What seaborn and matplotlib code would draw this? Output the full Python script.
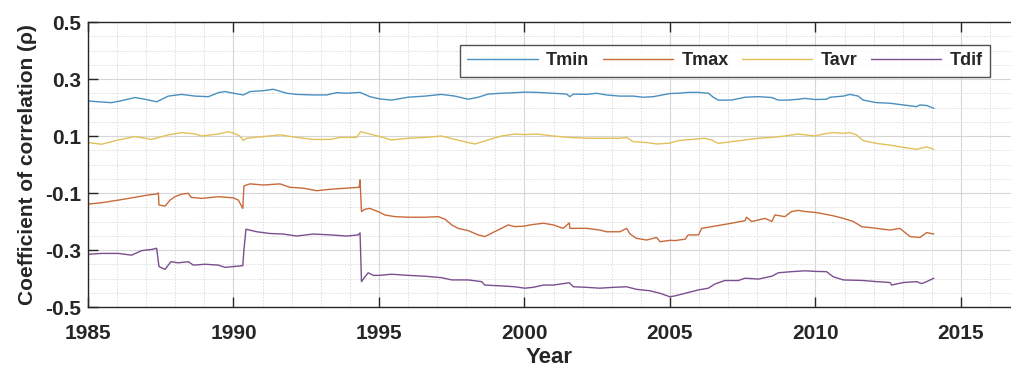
import numpy as np
import pandas as pd
import seaborn as sns
import matplotlib
matplotlib.use("Agg")
import matplotlib.pyplot as plt
from matplotlib.ticker import MultipleLocator

# Correlation series (year, rho)
tmin_year = [1985.0, 1985.36, 1985.81, 1986.16, 1986.62, 1986.96, 1987.36, 1987.76, 1988.22, 1988.68,
             1989.14, 1989.48, 1989.71, 1989.95, 1990.34, 1990.57, 1991.03, 1991.37, 1991.83, 1992.17,
             1992.74, 1993.2, 1993.55, 1993.89, 1994.35, 1994.69, 1995.03, 1995.43, 1996.0, 1996.58,
             1997.15, 1997.61, 1998.07, 1998.41, 1998.75, 1999.21, 1999.67, 2000.01, 2000.42, 2000.99,
             2001.45, 2001.56, 2001.68, 2002.14, 2002.48, 2002.82, 2003.28, 2003.74, 2004.08, 2004.43,
             2005.0, 2005.29, 2005.63, 2005.98, 2006.32, 2006.49, 2006.66, 2007.12, 2007.58, 2008.04,
             2008.5, 2008.72, 2009.07, 2009.41, 2009.64, 2009.98, 2010.38, 2010.5, 2010.96, 2011.18,
             2011.47, 2011.64, 2012.1, 2012.56, 2013.02, 2013.48, 2013.59, 2013.82, 2014.07]
tmin = [0.223, 0.220, 0.217, 0.224, 0.235, 0.229, 0.220, 0.240, 0.246, 0.240,
        0.238, 0.252, 0.256, 0.251, 0.244, 0.256, 0.259, 0.264, 0.250, 0.246,
        0.244, 0.244, 0.252, 0.250, 0.253, 0.238, 0.230, 0.226, 0.236, 0.240,
        0.246, 0.240, 0.229, 0.236, 0.247, 0.250, 0.252, 0.254, 0.253, 0.250,
        0.247, 0.238, 0.247, 0.246, 0.250, 0.244, 0.240, 0.240, 0.236, 0.238,
        0.249, 0.250, 0.253, 0.253, 0.250, 0.236, 0.226, 0.226, 0.236, 0.238,
        0.235, 0.226, 0.226, 0.229, 0.232, 0.228, 0.229, 0.236, 0.240, 0.246,
        0.240, 0.226, 0.217, 0.215, 0.209, 0.203, 0.209, 0.207, 0.197]

tmax_year = [1985.0, 1985.47, 1986.04, 1986.62, 1987.07, 1987.33, 1987.42, 1987.44, 1987.65, 1987.82,
             1987.99, 1988.22, 1988.45, 1988.54, 1988.91, 1989.48, 1990.0, 1990.17, 1990.32, 1990.36,
             1990.57, 1991.03, 1991.6, 1991.94, 1992.4, 1992.86, 1993.32, 1993.89, 1994.32, 1994.35,
             1994.40, 1994.52, 1994.69, 1995.03, 1995.2, 1995.55, 1996.0, 1996.58, 1997.04, 1997.27,
             1997.5, 1997.72, 1998.07, 1998.41, 1998.64, 1998.87, 1999.21, 1999.44, 1999.67, 2000.01,
             2000.19, 2000.65, 2000.99, 2001.33, 2001.54, 2001.56, 2002.14, 2002.59, 2002.82, 2003.28,
             2003.51, 2003.63, 2003.85, 2004.2, 2004.54, 2004.66, 2005.0, 2005.17, 2005.52, 2005.63,
             2005.98, 2006.09, 2006.55, 2007.12, 2007.58, 2007.63, 2007.81, 2008.27, 2008.5, 2008.61,
             2008.95, 2009.18, 2009.41, 2009.64, 2009.98, 2010.27, 2010.61, 2010.96, 2011.3, 2011.59,
             2012.1, 2012.56, 2012.9, 2013.25, 2013.59, 2013.82, 2014.07]
tmax = [-0.139, -0.134, -0.125, -0.115, -0.107, -0.104, -0.100, -0.142, -0.146, -0.125,
        -0.113, -0.104, -0.101, -0.115, -0.119, -0.113, -0.117, -0.125, -0.154, -0.075,
        -0.068, -0.072, -0.068, -0.080, -0.083, -0.092, -0.087, -0.083, -0.080, -0.054,
        -0.165, -0.157, -0.154, -0.168, -0.177, -0.183, -0.185, -0.185, -0.183, -0.192,
        -0.212, -0.224, -0.232, -0.247, -0.253, -0.241, -0.224, -0.212, -0.218, -0.216,
        -0.212, -0.206, -0.212, -0.224, -0.205, -0.224, -0.224, -0.230, -0.236, -0.236,
        -0.224, -0.244, -0.259, -0.265, -0.256, -0.271, -0.266, -0.267, -0.262, -0.247,
        -0.247, -0.224, -0.216, -0.206, -0.197, -0.185, -0.200, -0.189, -0.200, -0.177,
        -0.183, -0.165, -0.161, -0.165, -0.168, -0.173, -0.180, -0.189, -0.200, -0.218,
        -0.224, -0.230, -0.224, -0.253, -0.256, -0.239, -0.244]

tavr_year = [1985.0, 1985.47, 1986.04, 1986.62, 1987.19, 1987.76, 1988.22, 1988.68, 1988.91, 1989.48,
             1989.82, 1990.0, 1990.22, 1990.34, 1990.45, 1991.03, 1991.6, 1992.17, 1992.74, 1993.32,
             1993.66, 1994.23, 1994.37, 1994.69, 1995.03, 1995.43, 1996.0, 1996.58, 1997.15, 1997.61,
             1998.07, 1998.3, 1998.75, 1999.21, 1999.67, 2000.01, 2000.42, 2000.99, 2001.56, 2002.14,
             2002.71, 2003.28, 2003.51, 2003.74, 2004.2, 2004.54, 2005.0, 2005.29, 2005.75, 2006.2,
             2006.43, 2006.66, 2007.12, 2007.58, 2008.04, 2008.5, 2008.95, 2009.41, 2009.64, 2009.98,
             2010.27, 2010.61, 2010.96, 2011.18, 2011.41, 2011.64, 2012.1, 2012.56, 2013.02, 2013.48,
             2013.82, 2014.07]
tavr = [0.077, 0.071, 0.086, 0.098, 0.088, 0.104, 0.112, 0.107, 0.100, 0.107,
        0.115, 0.110, 0.100, 0.084, 0.092, 0.098, 0.104, 0.095, 0.088, 0.088,
        0.095, 0.095, 0.115, 0.107, 0.098, 0.086, 0.092, 0.095, 0.100, 0.088,
        0.077, 0.072, 0.086, 0.100, 0.107, 0.105, 0.107, 0.100, 0.095, 0.092,
        0.092, 0.092, 0.095, 0.080, 0.077, 0.072, 0.075, 0.084, 0.088, 0.092,
        0.086, 0.074, 0.080, 0.086, 0.092, 0.095, 0.100, 0.107, 0.104, 0.100,
        0.107, 0.112, 0.109, 0.112, 0.104, 0.084, 0.074, 0.068, 0.060, 0.053,
        0.062, 0.053]

tdif_year = [1985.0, 1985.47, 1986.04, 1986.5, 1986.85, 1987.19, 1987.36, 1987.44, 1987.65, 1987.85,
             1988.1, 1988.45, 1988.62, 1989.02, 1989.48, 1989.71, 1990.0, 1990.32, 1990.36, 1990.43,
             1990.8, 1991.25, 1991.71, 1992.17, 1992.74, 1993.32, 1993.89, 1994.29, 1994.35, 1994.40,
             1994.52, 1994.63, 1994.81, 1995.03, 1995.43, 1996.0, 1996.58, 1997.15, 1997.5, 1998.07,
             1998.53, 1998.64, 1999.21, 1999.67, 2000.01, 2000.3, 2000.65, 2000.99, 2001.54, 2001.68,
             2002.14, 2002.59, 2003.05, 2003.51, 2003.85, 2004.31, 2004.66, 2005.0, 2005.17, 2005.52,
             2005.98, 2006.32, 2006.55, 2006.89, 2007.35, 2007.58, 2008.04, 2008.5, 2008.72, 2009.18,
             2009.64, 2009.98, 2010.38, 2010.61, 2010.96, 2011.64, 2012.1, 2012.56, 2012.62, 2013.02,
             2013.48, 2013.65, 2013.82, 2014.07]
tdif = [-0.315, -0.312, -0.312, -0.318, -0.302, -0.298, -0.294, -0.358, -0.368, -0.341,
        -0.345, -0.341, -0.353, -0.350, -0.353, -0.361, -0.358, -0.355, -0.300, -0.227,
        -0.236, -0.242, -0.244, -0.251, -0.244, -0.247, -0.251, -0.247, -0.240, -0.411,
        -0.394, -0.380, -0.389, -0.389, -0.385, -0.389, -0.392, -0.397, -0.405, -0.405,
        -0.411, -0.423, -0.426, -0.429, -0.434, -0.431, -0.423, -0.423, -0.415, -0.429,
        -0.431, -0.434, -0.431, -0.429, -0.438, -0.443, -0.452, -0.464, -0.461, -0.452,
        -0.440, -0.434, -0.419, -0.407, -0.407, -0.399, -0.402, -0.392, -0.380, -0.376,
        -0.373, -0.375, -0.376, -0.394, -0.405, -0.407, -0.411, -0.414, -0.423, -0.414,
        -0.411, -0.418, -0.411, -0.399]

series_names = ["Tmin", "Tmax", "Tavr", "Tdif"]
series_colors = ["#4a8fc0", "#c96a3c", "#e3c05a", "#7b4f8f"]

frames = []
for name, yr, val in zip(series_names,
                         [tmin_year, tmax_year, tavr_year, tdif_year],
                         [tmin, tmax, tavr, tdif]):
    frames.append(pd.DataFrame({"Year": yr, "rho": val, "series": name}))
df = pd.concat(frames, ignore_index=True)

sns.set_theme(style="white")
plt.rcParams["font.family"] = ["Liberation Sans", "DejaVu Sans"]
plt.rcParams["font.weight"] = "bold"

fig = plt.figure(figsize=(10.11, 3.71), dpi=100)
ax = fig.add_axes([0.087, 0.1725, 0.913, 0.7682])

sns.lineplot(data=df, x="Year", y="rho", hue="series", hue_order=series_names,
             palette=series_colors, estimator=None, sort=False, linewidth=1.0,
             ax=ax, legend=False)

ax.set_xlim(1985, 2016.72)
ax.set_ylim(-0.5, 0.5)
ax.xaxis.set_major_locator(MultipleLocator(5))
ax.xaxis.set_minor_locator(MultipleLocator(1))
ax.yaxis.set_minor_locator(MultipleLocator(0.05))
ax.set_yticks([-0.5, -0.3, -0.1, 0.1, 0.3, 0.5])
ax.set_yticklabels(["-0.5", "-0.3", "-0.1", "0.1", "0.3", "0.5"])

ax.grid(which="major", color="#d6d6d6", linewidth=0.8, linestyle="-")
ax.grid(which="minor", color="#dcdcdc", linewidth=0.7, linestyle=(0, (1.5, 1.5)))
ax.set_axisbelow(True)

text_color = "#262626"
ax.tick_params(axis="both", which="major", direction="in", length=7, width=1.0,
               colors=text_color, labelsize=15, top=True, bottom=True, left=True, right=False)
ax.tick_params(axis="x", which="major", pad=12)
ax.tick_params(axis="y", which="major", pad=5)
ax.tick_params(axis="both", which="minor", length=0)
for lab in ax.get_xticklabels() + ax.get_yticklabels():
    lab.set_fontweight("bold")

for side in ["left", "bottom", "top"]:
    ax.spines[side].set_color(text_color)
    ax.spines[side].set_linewidth(1.0)
ax.spines["right"].set_visible(False)

ax.set_xlabel("Year", fontsize=16, fontweight="bold", color=text_color, labelpad=3)
ax.set_ylabel("Coefficient of correlation (\u03c1)", fontsize=15, fontweight="bold",
              color=text_color, labelpad=6)

handles = [plt.Line2D([], [], color=c, linewidth=1.0) for c in series_colors]
leg = ax.legend(handles, series_names, ncol=4, loc="upper right",
                bbox_to_anchor=(0.977, 0.919), borderaxespad=0.0, frameon=True, fancybox=False,
                handlelength=3.9, handletextpad=0.45, columnspacing=0.75,
                borderpad=0.4, prop={"weight": "bold", "size": 13})
leg.get_frame().set_edgecolor(text_color)
leg.get_frame().set_linewidth(1.0)
for t in leg.get_texts():
    t.set_color(text_color)

fig.savefig("out.png", dpi=100, facecolor="white")
